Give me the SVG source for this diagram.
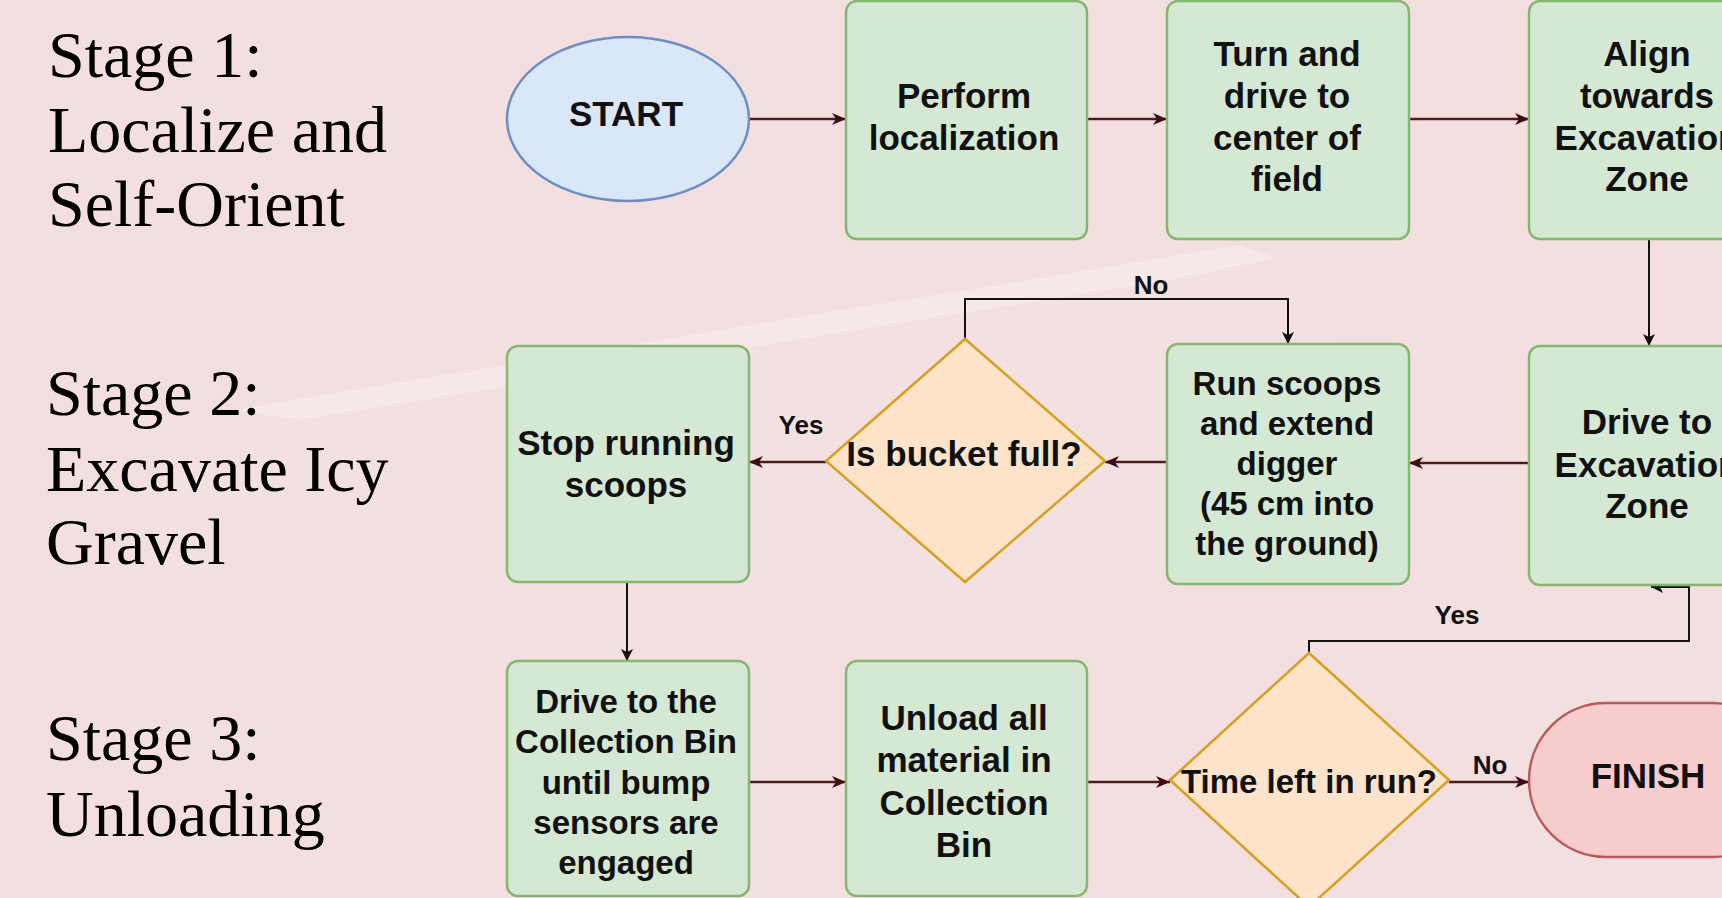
<svg xmlns="http://www.w3.org/2000/svg" width="1722" height="898" viewBox="0 0 1722 898">
<defs>
<style>
.stage{font-family:"Liberation Serif","Times New Roman",serif;font-size:66px;fill:#000}
.box{fill:#d5e8d3;stroke:#86b76e;stroke-width:2.5}
.dia{fill:#fde3ca;stroke:#d69f1e;stroke-width:2.5}
.t{font-family:"Liberation Sans",Arial,sans-serif;font-weight:bold;font-size:35px;fill:#111;text-anchor:middle}
.s33{font-size:33px}
.lbl{font-family:"Liberation Sans",Arial,sans-serif;font-weight:bold;font-size:26px;fill:#111;text-anchor:middle}
.cm{fill:none;stroke:#4a1c20;stroke-width:2.5}
.ck{fill:none;stroke:#111;stroke-width:2}
</style>
<marker id="am" viewBox="0 0 14 12" refX="14" refY="6" markerWidth="14" markerHeight="12" orient="auto" markerUnits="userSpaceOnUse"><path d="M0,0 L14,6 L0,12 L4,6 z" fill="#3d0b10"/></marker>
<marker id="ak" viewBox="0 0 12 12" refX="12" refY="6" markerWidth="12" markerHeight="12" orient="auto" markerUnits="userSpaceOnUse"><path d="M0,0 L12,6 L0,12 L3,6 z" fill="#111"/></marker>
</defs>
<rect width="1722" height="898" fill="#f3dfe0"/>
<path d="M40,700 Q120,480 300,400 L1250,250 L1330,330 L1300,560 L900,620 L60,660 z" fill="#ffffff" opacity="0.07"/>
<path d="M230,410 L1240,245 L1275,258 L1200,275 L300,420 z" fill="#ffffff" opacity="0.25"/>

<g id="stage1"><text class="stage" x="48" y="77">Stage 1:</text><text class="stage" x="48" y="152">Localize and</text><text class="stage" x="48" y="226">Self-Orient</text></g>
<g id="stage2"><text class="stage" x="46" y="415">Stage 2:</text><text class="stage" x="46" y="491">Excavate Icy</text><text class="stage" x="46" y="564">Gravel</text></g>
<g id="stage3"><text class="stage" x="46" y="760">Stage 3:</text><text class="stage" x="46" y="836">Unloading</text></g>

<g id="connectors">
<line class="cm" x1="749" y1="119" x2="846" y2="119" marker-end="url(#am)"/>
<line class="cm" x1="1087" y1="119" x2="1167" y2="119" marker-end="url(#am)"/>
<line class="cm" x1="1409" y1="119" x2="1529" y2="119" marker-end="url(#am)"/>
<line class="ck" x1="1649" y1="239" x2="1649" y2="346" marker-end="url(#ak)"/>
<line class="cm" x1="1529" y1="463" x2="1409" y2="463" marker-end="url(#am)"/>
<line class="cm" x1="1167" y1="462" x2="1105" y2="462" marker-end="url(#am)"/>
<line class="cm" x1="826" y1="462" x2="749" y2="462" marker-end="url(#am)"/>
<polyline class="ck" points="965,339 965,299 1288,299 1288,344" marker-end="url(#ak)"/>
<line class="ck" x1="627" y1="582" x2="627" y2="661" marker-end="url(#ak)"/>
<line class="cm" x1="749" y1="782" x2="846" y2="782" marker-end="url(#am)"/>
<line class="cm" x1="1087" y1="782" x2="1170" y2="782" marker-end="url(#am)"/>
<line class="cm" x1="1449" y1="782" x2="1529" y2="782" marker-end="url(#am)"/>
<polyline class="ck" points="1309,653 1309,641 1689,641 1689,587 1651,587" marker-end="url(#ak)"/>
<text class="lbl" x="1151" y="294">No</text>
<text class="lbl" x="801" y="434">Yes</text>
<text class="lbl" x="1457" y="624">Yes</text>
<text class="lbl" x="1490" y="774">No</text>
</g>

<g id="start"><ellipse cx="628" cy="119" rx="121" ry="82" fill="#d9e7f9" stroke="#6e8ec3" stroke-width="2.5"/><text class="t" x="626" y="126">START</text></g>
<g id="perform"><rect class="box" x="846" y="1" width="241" height="238" rx="11"/><text class="t" x="964" y="108">Perform</text><text class="t" x="964" y="150">localization</text></g>
<g id="turn"><rect class="box" x="1167" y="1" width="242" height="238" rx="11"/><text class="t" x="1287" y="66">Turn and</text><text class="t" x="1287" y="108">drive to</text><text class="t" x="1287" y="150">center of</text><text class="t" x="1287" y="191">field</text></g>
<g id="align"><rect class="box" x="1529" y="1" width="242" height="238" rx="11"/><text class="t" x="1647" y="66">Align</text><text class="t" x="1647" y="108">towards</text><text class="t" x="1647" y="150">Excavation</text><text class="t" x="1647" y="191">Zone</text></g>
<g id="stop"><rect class="box" x="507" y="346" width="242" height="236" rx="11"/><text class="t" x="626" y="455">Stop running</text><text class="t" x="626" y="497">scoops</text></g>
<g id="bucket"><polygon class="dia" points="965,339 1105,461 965,582 826,461"/><text class="t" x="964" y="466">Is bucket full?</text></g>
<g id="runscoops"><rect class="box" x="1167" y="344" width="242" height="240" rx="11"/><text class="t s33" x="1287" y="395">Run scoops</text><text class="t s33" x="1287" y="435">and extend</text><text class="t s33" x="1287" y="475">digger</text><text class="t s33" x="1287" y="515">(45 cm into</text><text class="t s33" x="1287" y="555">the ground)</text></g>
<g id="driveexc"><rect class="box" x="1529" y="346" width="242" height="239" rx="11"/><text class="t" x="1647" y="434">Drive to</text><text class="t" x="1647" y="477">Excavation</text><text class="t" x="1647" y="518">Zone</text></g>
<g id="drivecoll"><rect class="box" x="507" y="661" width="242" height="235" rx="11"/><text class="t s33" x="626" y="713">Drive to the</text><text class="t s33" x="626" y="753">Collection Bin</text><text class="t s33" x="626" y="794">until bump</text><text class="t s33" x="626" y="834">sensors are</text><text class="t s33" x="626" y="874">engaged</text></g>
<g id="unload"><rect class="box" x="846" y="661" width="241" height="235" rx="11"/><text class="t" x="964" y="730">Unload all</text><text class="t" x="964" y="772">material in</text><text class="t" x="964" y="815">Collection</text><text class="t" x="964" y="857">Bin</text></g>
<g id="timeleft"><polygon class="dia" points="1309,653 1449,780 1309,907 1170,780"/><text class="t s33" x="1309" y="793">Time left in run?</text></g>
<g id="finish"><rect x="1529" y="703" width="260" height="154" rx="77" fill="#f6cdcc" stroke="#b85b58" stroke-width="2.5"/><text class="t" x="1648" y="788">FINISH</text></g>
</svg>
